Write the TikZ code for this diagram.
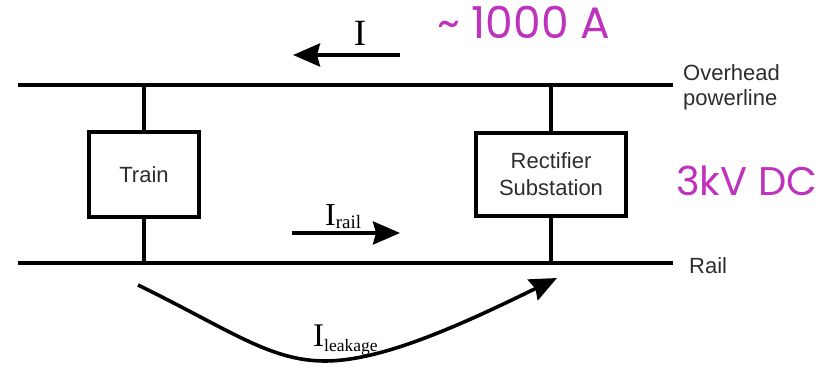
\documentclass[tikz,border=0pt]{standalone}
\usepackage{fontspec}
\usepackage{xcolor}
\setmainfont{Liberation Sans}
\newfontfamily\timesfont{Liberation Serif}
\newfontfamily\magfont{Poppins}
\usetikzlibrary{arrows.meta}
\definecolor{labelmagenta}{RGB}{190,50,190}
\definecolor{labelgray}{RGB}{45,45,45}
\tikzset{
  wire/.style={line width=3.6pt},
  unitbox/.style={draw,line width=3.6pt,inner sep=0pt,text=labelgray,align=center,font=\fontsize{22}{27}\selectfont},
  sidetext/.style={inner sep=0pt,text=labelgray,align=left,font=\fontsize{22}{25}\selectfont},
  magtext/.style={inner sep=0pt,text=labelmagenta},
  curr/.style={line width=3.6pt,-{Stealth[length=27pt,width=23pt,inset=3pt]}},
  currtext/.style={inner sep=0pt,font=\timesfont}
}

\begin{document}
\begin{tikzpicture}[x=1pt,y=-1pt]
\fill[white] (0,0) rectangle (827,369);
\useasboundingbox (0,0) rectangle (827,369);
% lines
\coordinate (ohL) at (18,85);
\coordinate (ohR) at (673,85);
\coordinate (railL) at (18,263);
\coordinate (railR) at (673,263);
\draw[wire] (ohL) -- (ohR);
\draw[wire] (railL) -- (railR);
% boxes
\node[unitbox,minimum width=110,minimum height=85] (train) at (144,174.5) {Train};
\node[unitbox,minimum width=150,minimum height=83] (rectifier) at (551,174.5) {Rectifier\\Substation};
\draw[wire] (train.north) -- (train.north |- ohL);
\draw[wire] (train.south) -- (train.south |- railL);
\draw[wire] (rectifier.north) -- (rectifier.north |- ohL);
\draw[wire] (rectifier.south) -- (rectifier.south |- railL);
% side labels
\node[sidetext,anchor=west] (ohlabel) at (683,87) {Overhead\\powerline};
\node[sidetext,anchor=base west] (raillabel) at (689,273) {Rail};
\node[magtext,anchor=base west,font=\magfont\fontsize{44}{44}\selectfont] (amps) at (437,39) {\textasciitilde\ 1000 A};
\node[magtext,anchor=base west,font=\magfont\fontsize{40}{40}\selectfont] (volts) at (676,195) {3kV DC};
% currents
\coordinate (iStart) at (400,55);
\coordinate (iEnd) at (293,55);
\draw[curr] (iStart) -- (iEnd);
\node[currtext,anchor=base,font=\timesfont\fontsize{37}{37}\selectfont] (ilabel) at (360,46) {I};
\coordinate (railStart) at (292,233);
\coordinate (railEnd) at (400,233);
\draw[curr] (railStart) -- (railEnd);
\node[currtext,anchor=base west] (raillabelI) at (325,225) {\fontsize{32}{32}\selectfont I\raisebox{-3pt}{\fontsize{19}{19}\selectfont rail}};
\coordinate (leakStart) at (138,285);
\coordinate (leakBottom) at (325,361);
\coordinate (leakEnd) at (557,278);
\draw[curr] (leakStart) .. controls (230,330) and (270,361) .. (leakBottom)
  .. controls (380,361) and (455,328) .. (leakEnd);
\node[currtext,anchor=base west] (leaklabel) at (313,346) {\fontsize{33}{33}\selectfont I\raisebox{-5pt}{\fontsize{17.5}{17.5}\selectfont leakage}};
\end{tikzpicture}
\end{document}
